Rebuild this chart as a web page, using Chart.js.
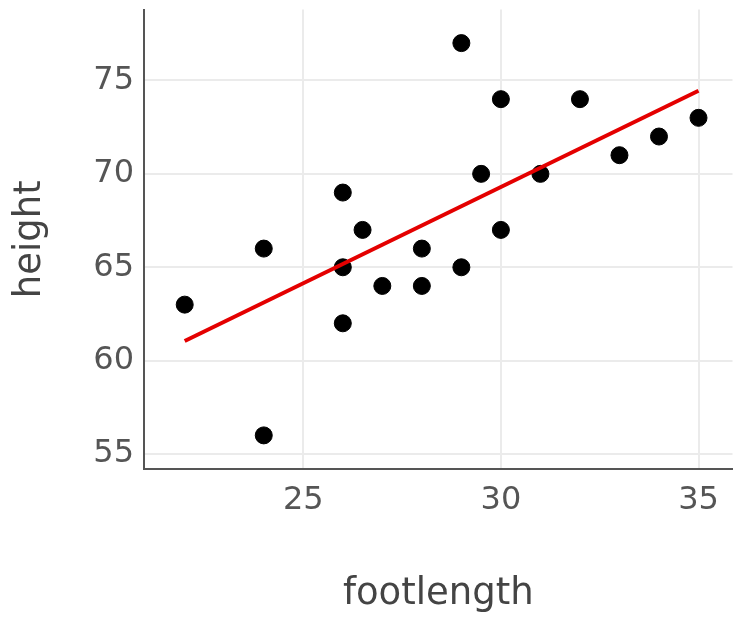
<!DOCTYPE html>
<html>
<head>
<meta charset="utf-8">
<script src="https://cdn.jsdelivr.net/npm/chart.js@4.4.1/dist/chart.umd.min.js"></script>
<style>
  html, body { margin: 0; padding: 0; background: #fff; overflow: hidden; }
  #wrap { width: 742px; height: 618px; }
</style>
</head>
<body>
<div id="wrap"><canvas id="chart"></canvas></div>
<script>
const footlength = [22, 24, 24, 26, 26, 26, 26.5, 27, 28, 28, 29, 29, 29.5, 30, 30, 31, 32, 33, 34, 35];
const height = [63, 66, 56, 69, 65, 62, 67, 64, 66, 64, 77, 65, 70, 74, 67, 70, 74, 71, 72, 73];

// fitted line endpoints
const fitX = [22, 35];
const fitY = [61.05, 74.45];

const points = footlength.map((x, i) => ({ x: x, y: height[i] }));
const fitLine = fitX.map((x, i) => ({ x: x, y: fitY[i] }));

const tickFont = { family: 'DejaVu Sans', size: 32 };
const titleFont = { family: 'DejaVu Sans', size: 37 };

new Chart(document.getElementById('chart').getContext('2d'), {
  type: 'scatter',
  data: {
    datasets: [
      {
        type: 'line',
        data: fitLine,
        borderColor: '#e40000',
        borderWidth: 4,
        pointRadius: 0,
        fill: false,
        order: 0
      },
      {
        data: points,
        backgroundColor: '#000',
        borderColor: '#000',
        pointRadius: 8.5,
        pointHoverRadius: 8.5,
        order: 1
      }
    ]
  },
  options: {
    responsive: true,
    maintainAspectRatio: false,
    animation: false,
    layout: { padding: { top: 9, right: 0, left: 0, bottom: 0 } },
    plugins: { legend: { display: false }, tooltip: { enabled: false } },
    scales: {
      x: {
        type: 'linear',
        min: 20.97,
        max: 35.86,
        afterFit: function (scale) {
          scale.height = 149;
          scale.paddingRight = 0;
          scale.paddingLeft = 0;
        },
        grid: { color: '#ebebeb', lineWidth: 2, drawTicks: false },
        border: { color: '#555', width: 2 },
        ticks: { stepSize: 5, includeBounds: false, color: '#555', font: tickFont, padding: 12 },
        title: { display: true, text: 'footlength', color: '#444', font: titleFont, padding: { top: 0, bottom: 1 } }
      },
      y: {
        min: 54.2,
        max: 78.8,
        afterFit: function (scale) {
          scale.width = 144;
          scale.paddingTop = 0;
          scale.paddingBottom = 0;
        },
        grid: { color: '#ebebeb', lineWidth: 2, drawTicks: false },
        border: { color: '#555', width: 2 },
        ticks: { stepSize: 5, includeBounds: false, color: '#555', font: tickFont, padding: 10 },
        title: { display: true, text: 'height', color: '#444', font: titleFont, padding: { top: 8, bottom: 0 } }
      }
    }
  }
});
</script>
</body>
</html>
